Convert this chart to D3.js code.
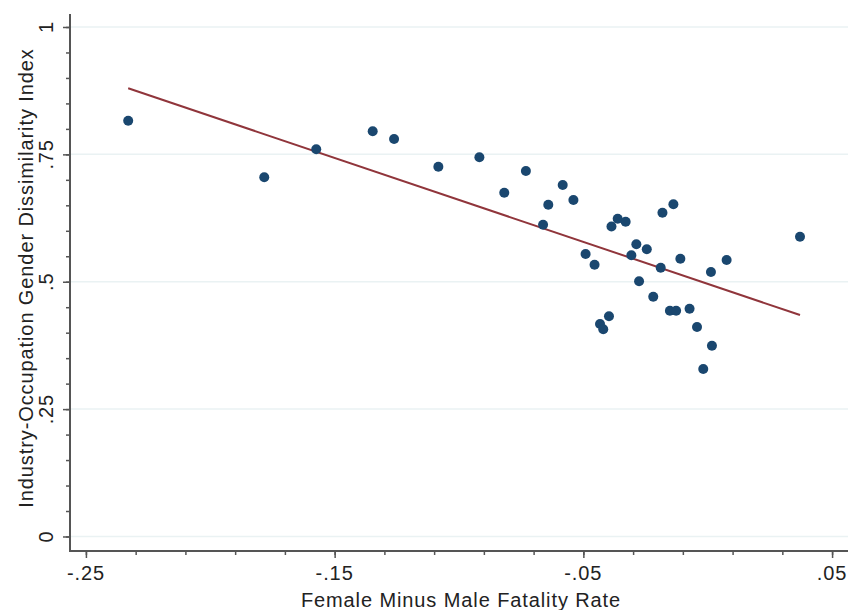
<!DOCTYPE html>
<html><head><meta charset="utf-8">
<script src="https://cdn.jsdelivr.net/npm/d3@7/dist/d3.min.js"></script>
<style>body{margin:0;background:#fff}svg{display:block}text{font-family:"Liberation Sans",Arial,sans-serif;fill:#222}</style>
</head><body><svg id="c" width="852" height="610"></svg>
<script>
const xVals=[-0.2330,-0.1783,-0.1574,-0.1347,-0.1261,-0.1083,-0.0918,-0.0818,-0.0731,-0.0662,-0.0641,-0.0583,-0.0540,-0.0491,-0.0455,-0.0433,-0.0420,-0.0397,-0.0387,-0.0362,-0.0330,-0.0307,-0.0287,-0.0276,-0.0245,-0.0219,-0.0189,-0.0182,-0.0152,-0.0138,-0.0127,-0.0110,-0.0073,-0.0043,-0.0018,0.0013,0.0017,0.0076,0.0371];
const yVals=[0.8161,0.7050,0.7600,0.7953,0.7802,0.7258,0.7443,0.6748,0.7174,0.6120,0.6512,0.6899,0.6605,0.5545,0.5335,0.4171,0.4067,0.4322,0.6084,0.6238,0.6179,0.5519,0.5735,0.5009,0.5639,0.4707,0.5276,0.6355,0.4432,0.6520,0.4432,0.5452,0.4471,0.4112,0.3288,0.5191,0.3745,0.5427,0.5884];
const fitX=[-0.2330,0.0371];
const fitY=[0.8797,0.4347];
const xTicks=[-0.25,-0.15,-0.05,0.05];
const xTickLabels=["-.25","-.15","-.05",".05"];
const yTicks=[0,0.25,0.5,0.75,1];
const yTickLabels=["0",".25",".5",".75","1"];
const xTitle="Female Minus Male Fatality Rate";
const yTitle="Industry-Occupation Gender Dissimilarity Index";

const svg=d3.select("#c");
const L=70,R=848,T=14,B=551;
const FS=20, LS="0.9px";
const x=d3.scaleLinear().domain([-0.2564,0.0564]).range([L,R]);
const y=d3.scaleLinear().domain([-0.0285,1.0255]).range([B,T]);

// gridlines
svg.append("g").selectAll("line").data(yTicks).join("line")
 .attr("x1",L).attr("x2",R).attr("y1",d=>y(d)).attr("y2",d=>y(d))
 .attr("stroke","#eaf2f3").attr("stroke-width",1.5);

const axisCol="#555";
// x axis
const xMinor=d3.range(-0.25,0.0501,0.02).map(v=>+v.toFixed(2));
const gx=svg.append("g").attr("transform",`translate(0,${B})`)
 .call(d3.axisBottom(x).tickValues(xMinor).tickSize(4).tickFormat(""));
gx.select(".domain").remove();
gx.selectAll("line").attr("stroke",axisCol).attr("stroke-width",1.5);
const gx2=svg.append("g").attr("transform",`translate(0,${B})`)
 .call(d3.axisBottom(x).tickValues(xTicks).tickSize(7).tickFormat(""));
gx2.select(".domain").remove();
gx2.selectAll("line").attr("stroke",axisCol).attr("stroke-width",1.5);
svg.append("g").selectAll("text").data(xTicks).join("text")
 .attr("x",d=>x(d)).attr("y",580).attr("text-anchor","middle")
 .attr("font-size",FS).attr("letter-spacing",LS).text((d,i)=>xTickLabels[i]);
svg.append("line").attr("x1",L-1).attr("x2",R).attr("y1",B).attr("y2",B).attr("stroke",axisCol).attr("stroke-width",2);

// y axis
const yMinor=d3.range(0,1.0001,0.05).map(v=>+v.toFixed(2));
const gy=svg.append("g").attr("transform",`translate(${L},0)`)
 .call(d3.axisLeft(y).tickValues(yMinor).tickSize(4).tickFormat(""));
gy.select(".domain").remove();
gy.selectAll("line").attr("stroke",axisCol).attr("stroke-width",1.5);
const gy2=svg.append("g").attr("transform",`translate(${L},0)`)
 .call(d3.axisLeft(y).tickValues(yTicks).tickSize(7).tickFormat(""));
gy2.select(".domain").remove();
gy2.selectAll("line").attr("stroke",axisCol).attr("stroke-width",1.5);
svg.append("g").selectAll("text").data(yTicks).join("text")
 .attr("transform",d=>`translate(53,${y(d)}) rotate(-90)`)
 .attr("text-anchor","middle").attr("font-size",FS).attr("letter-spacing",LS).text((d,i)=>yTickLabels[i]);
svg.append("line").attr("x1",L).attr("x2",L).attr("y1",T).attr("y2",B+1).attr("stroke",axisCol).attr("stroke-width",2);

// fit line
svg.append("path").datum(fitX.map((v,i)=>[v,fitY[i]]))
 .attr("d",d3.line().x(d=>x(d[0])).y(d=>y(d[1])))
 .attr("fill","none").attr("stroke","#90353b").attr("stroke-width",2);

// points
svg.append("g").selectAll("circle").data(xVals.map((v,i)=>[v,yVals[i]])).join("circle")
 .attr("cx",d=>x(d[0])).attr("cy",d=>y(d[1])).attr("r",5).attr("fill","#1a476f");

// titles
svg.append("text").attr("x",461).attr("y",607).attr("text-anchor","middle")
 .attr("font-size",FS).attr("letter-spacing",LS).text(xTitle);
svg.append("text").attr("transform",`translate(33,278) rotate(-90)`).attr("text-anchor","middle")
 .attr("font-size",FS).attr("letter-spacing",LS).text(yTitle);
</script></body></html>
